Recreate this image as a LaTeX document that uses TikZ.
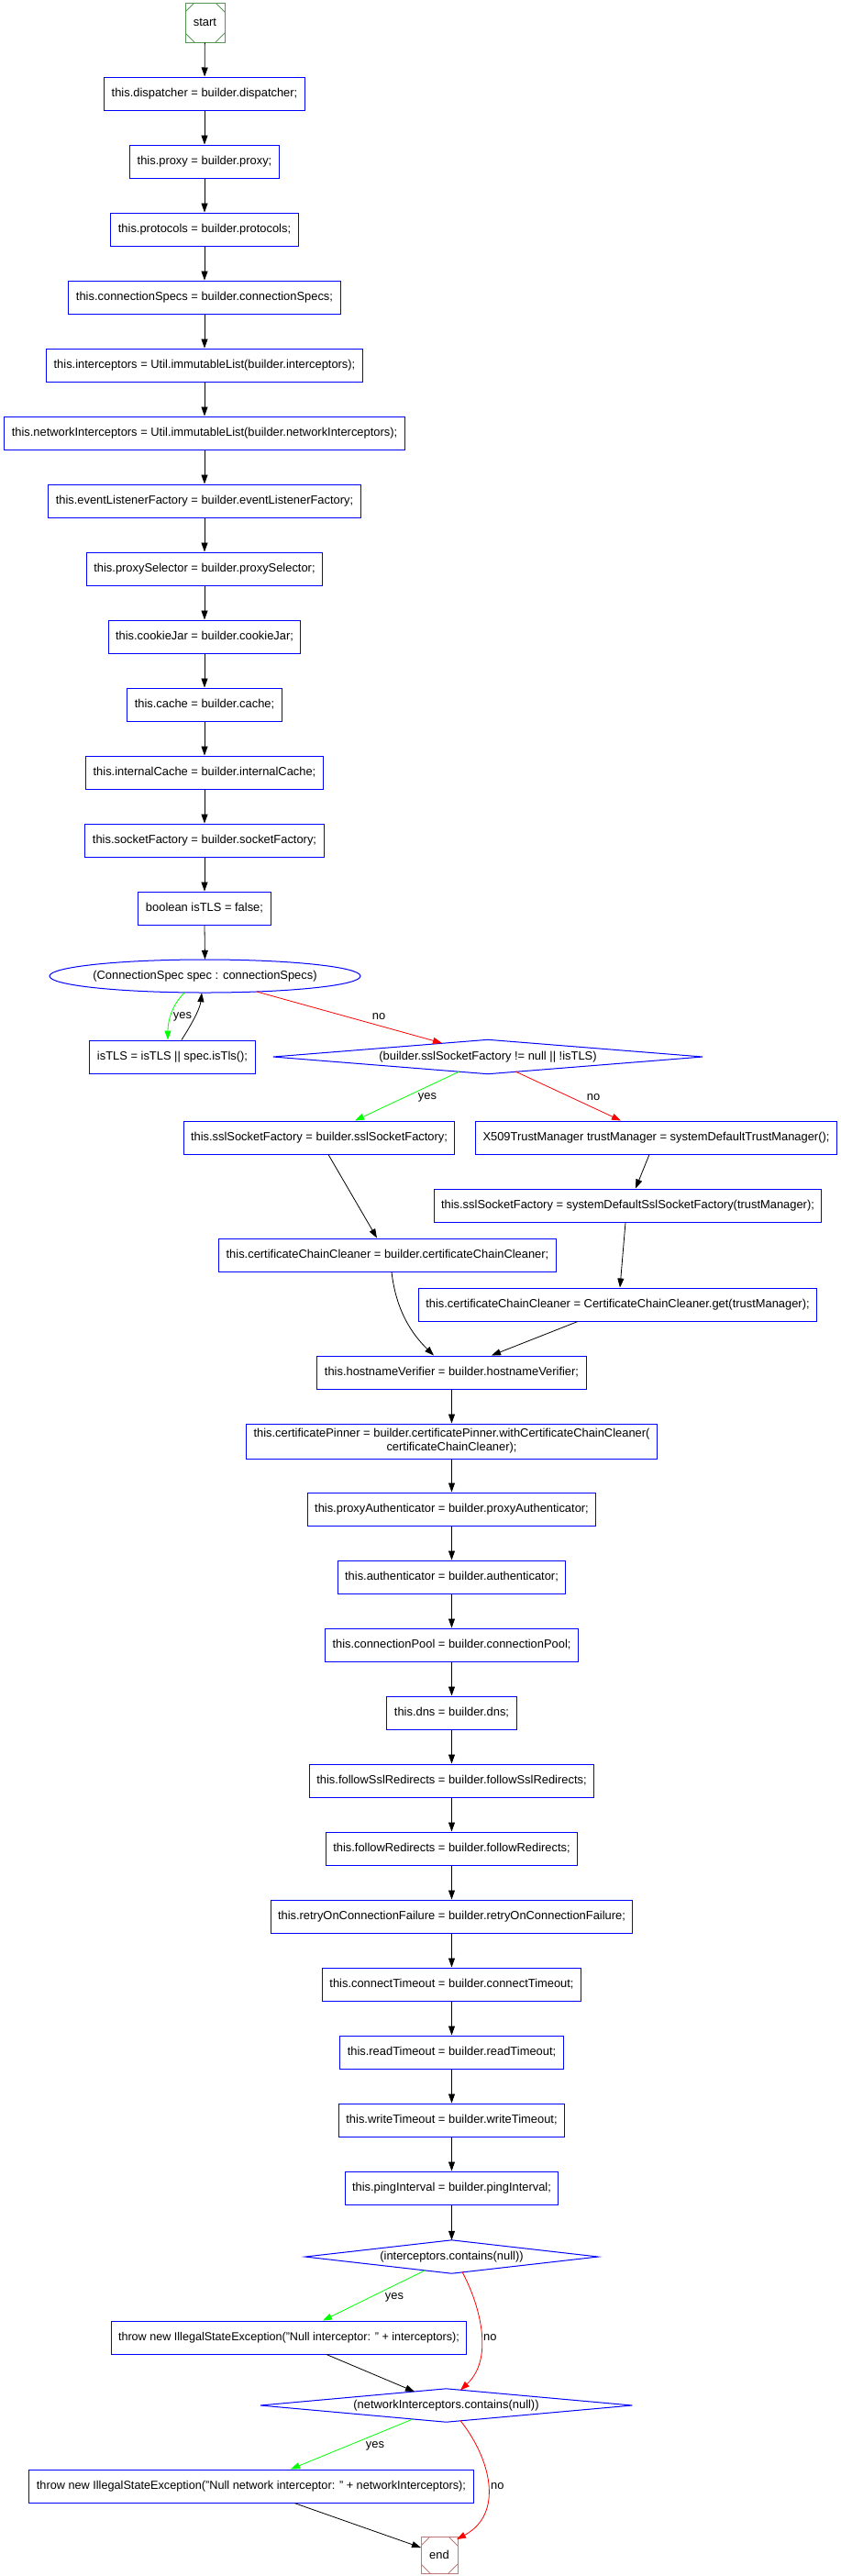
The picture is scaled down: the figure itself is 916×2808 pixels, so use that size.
\documentclass[tikz,border=0pt]{standalone}
\usepackage{fontspec}
\setmainfont{Liberation Sans}
\usetikzlibrary{arrows.meta,calc}
\newcommand\dfont{\fontsize{12.9pt}{15pt}\selectfont}
\definecolor{startgreen}{RGB}{85,150,85}
\definecolor{endred}{RGB}{190,120,120}
\tikzset{
  stm/.style={rectangle, draw=blue, line width=1pt, inner xsep=8pt, inner ysep=0pt,
    minimum height=36pt, font=\dfont, align=center},
  dtxt/.style={rectangle, inner sep=0pt, font=\dfont},
  dshape/.style={draw=blue, line width=1pt},
  lbl/.style={font=\dfont, inner sep=0pt},
  arr/.style={-{Triangle[length=10pt,width=7pt]}, line width=0.8pt},
  yesarr/.style={arr, draw=green},
  noarr/.style={arr, draw=red},
  msq/.style={rectangle, draw=#1, line width=1pt, inner sep=0pt, font=\dfont,
    path picture={
      \draw[#1, line width=1pt]
        ([xshift=10pt]path picture bounding box.north west) -- ([yshift=-10pt]path picture bounding box.north west)
        ([xshift=-10pt]path picture bounding box.north east) -- ([yshift=-10pt]path picture bounding box.north east)
        ([xshift=10pt]path picture bounding box.south west) -- ([yshift=10pt]path picture bounding box.south west)
        ([xshift=-10pt]path picture bounding box.south east) -- ([yshift=10pt]path picture bounding box.south east);
    }}
}
\begin{document}
\begin{tikzpicture}[x=1pt,y=-1pt]
\useasboundingbox (0,0) rectangle (916,2808);
% start
\node[msq=startgreen, minimum width=43pt, minimum height=43pt] (startn) at (223.5,24.5) {start};
% first column
\node[stm] (n1) at (223,102) {this.dispatcher = builder.dispatcher;};
\node[stm] (n2) at (223,176) {this.proxy = builder.proxy;};
\node[stm] (n3) at (223,250) {this.protocols = builder.protocols;};
\node[stm] (n4) at (223,324) {this.connectionSpecs = builder.connectionSpecs;};
\node[stm] (n5) at (223,398) {this.interceptors = Util.immutableList(builder.interceptors);};
\node[stm] (n6) at (223,472) {this.networkInterceptors = Util.immutableList(builder.networkInterceptors);};
\node[stm] (n7) at (223,546) {this.eventListenerFactory = builder.eventListenerFactory;};
\node[stm] (n8) at (223,620) {this.proxySelector = builder.proxySelector;};
\node[stm] (n9) at (223,694) {this.cookieJar = builder.cookieJar;};
\node[stm] (n10) at (223,768) {this.cache = builder.cache;};
\node[stm] (n11) at (223,842) {this.internalCache = builder.internalCache;};
\node[stm] (n12) at (223,916) {this.socketFactory = builder.socketFactory;};
\node[stm] (n13) at (223,990) {boolean isTLS = false;};
% loop
\node[dtxt, minimum width=339pt, minimum height=36pt] (loop) at (223.5,1064) {(ConnectionSpec spec : connectionSpecs)};
\draw[dshape] (loop.center) ellipse [x radius=169.5, y radius=18];
\node[stm] (tls) at (188,1152) {isTLS = isTLS || spec.isTls();};
% decision 1
\node[dtxt, minimum width=468pt, minimum height=37pt] (d1) at (532,1152) {(builder.sslSocketFactory != null || !isTLS)};
\draw[dshape] (d1.west) -- (d1.north) -- (d1.east) -- (d1.south) -- cycle;
\node[stm] (ssl) at (348,1240) {this.sslSocketFactory = builder.sslSocketFactory;};
\node[stm] (x509) at (715.5,1240) {X509TrustManager trustManager = systemDefaultTrustManager();};
\node[stm] (sdsf) at (684.5,1314) {this.sslSocketFactory = systemDefaultSslSocketFactory(trustManager);};
\node[stm] (ccc1) at (422.5,1368) {this.certificateChainCleaner = builder.certificateChainCleaner;};
\node[stm] (ccc2) at (673.5,1422) {this.certificateChainCleaner = CertificateChainCleaner.get(trustManager);};
% second column
\node[stm] (hv) at (492.5,1496) {this.hostnameVerifier = builder.hostnameVerifier;};
\node[stm, minimum height=38pt] (pin) at (492.5,1571) {this.certificatePinner = builder.certificatePinner.withCertificateChainCleaner(\\certificateChainCleaner);};
\node[stm] (pa) at (492.5,1645) {this.proxyAuthenticator = builder.proxyAuthenticator;};
\node[stm] (au) at (492.5,1719) {this.authenticator = builder.authenticator;};
\node[stm] (cp) at (492.5,1793) {this.connectionPool = builder.connectionPool;};
\node[stm] (dns) at (492.5,1867) {this.dns = builder.dns;};
\node[stm] (fsr) at (492.5,1941) {this.followSslRedirects = builder.followSslRedirects;};
\node[stm] (fr) at (492.5,2015) {this.followRedirects = builder.followRedirects;};
\node[stm] (rc) at (492.5,2089) {this.retryOnConnectionFailure = builder.retryOnConnectionFailure;};
\node[stm] (ct) at (492.5,2163) {this.connectTimeout = builder.connectTimeout;};
\node[stm] (rt) at (492.5,2237) {this.readTimeout = builder.readTimeout;};
\node[stm] (wt) at (492.5,2311) {this.writeTimeout = builder.writeTimeout;};
\node[stm] (pi) at (492.5,2385) {this.pingInterval = builder.pingInterval;};
% decisions 2, 3
\node[dtxt, minimum width=319pt, minimum height=36pt] (d2) at (492.5,2460) {(interceptors.contains(null))};
\draw[dshape] (d2.west) -- (d2.north) -- (d2.east) -- (d2.south) -- cycle;
\node[stm, font=\fontsize{12.6pt}{15pt}\selectfont] (th1) at (315,2548) {throw new IllegalStateException("Null interceptor: " + interceptors);};
\node[dtxt, minimum width=405pt, minimum height=36pt] (d3) at (486.5,2622) {(networkInterceptors.contains(null))};
\draw[dshape] (d3.west) -- (d3.north) -- (d3.east) -- (d3.south) -- cycle;
\node[stm, font=\fontsize{12.7pt}{15pt}\selectfont] (th2) at (274,2710) {throw new IllegalStateException("Null network interceptor: " + networkInterceptors);};
\node[msq=endred, minimum width=40pt, minimum height=40pt] (endn) at (479,2785) {end};

% chain arrows
\draw[arr] (startn) -- (n1);
\draw[arr] (n1) -- (n2);
\draw[arr] (n2) -- (n3);
\draw[arr] (n3) -- (n4);
\draw[arr] (n4) -- (n5);
\draw[arr] (n5) -- (n6);
\draw[arr] (n6) -- (n7);
\draw[arr] (n7) -- (n8);
\draw[arr] (n8) -- (n9);
\draw[arr] (n9) -- (n10);
\draw[arr] (n10) -- (n11);
\draw[arr] (n11) -- (n12);
\draw[arr] (n12) -- (n13);
\draw[arr] (n13.south) -- (loop.north);
% loop body
\draw[yesarr] ([xshift=-22.5pt]loop.south) .. controls (188,1095) and (183,1112) .. ([xshift=-5pt]tls.north);
\draw[arr] ([xshift=10pt]tls.north) .. controls (208,1118) and (218,1100) .. ([xshift=-3.5pt]loop.south);
\node[lbl] (lyes0) at (199,1108) {yes};
\draw[noarr] ($(loop.center)+(56.5,17)$) -- ($(d1.center)+(-50,-15)$);
\node[lbl] (lno0) at (413,1108) {no};
% decision 1 branches
\draw[yesarr] ($(d1.center)+(-31,16)$) -- ([xshift=39pt]ssl.north);
\node[lbl] (lyes1) at (466,1196) {yes};
\draw[noarr] ($(d1.center)+(30,16)$) -- ([xshift=-38.5pt]x509.north);
\node[lbl] (lno1) at (647,1196) {no};
\draw[arr] ([xshift=10pt]ssl.south) -- ([xshift=-11.5pt]ccc1.north);
\draw[arr] ([xshift=-7.5pt]x509.south) -- ([xshift=8.5pt]sdsf.north);
\draw[arr] ([xshift=-2.5pt]sdsf.south) -- ([xshift=2.5pt]ccc2.north);
\draw[arr] ([xshift=4.5pt]ccc1.south) .. controls (432,1430) and (450,1455) .. ([xshift=-19.5pt]hv.north);
\draw[arr] ([xshift=-43.5pt]ccc2.south) -- ([xshift=43.5pt]hv.north);
% second chain
\draw[arr] (hv) -- (pin);
\draw[arr] (pin) -- (pa);
\draw[arr] (pa) -- (au);
\draw[arr] (au) -- (cp);
\draw[arr] (cp) -- (dns);
\draw[arr] (dns) -- (fsr);
\draw[arr] (fsr) -- (fr);
\draw[arr] (fr) -- (rc);
\draw[arr] (rc) -- (ct);
\draw[arr] (ct) -- (rt);
\draw[arr] (rt) -- (wt);
\draw[arr] (wt) -- (pi);
\draw[arr] (pi.south) -- (d2.north);
% decision 2
\draw[yesarr] ($(d2.center)+(-29.5,15)$) -- ([xshift=37pt]th1.north);
\node[lbl] (lyes2) at (430,2504) {yes};
\draw[noarr] ($(d2.center)+(11.5,16.5)$) .. controls (522,2510) and (540,2570) .. ($(d3.center)+(15.5,-16.6)$);
\node[lbl, anchor=west] (lno2) at (527,2548) {no};
\draw[arr] ([xshift=41pt]th1.south) -- ($(d3.center)+(-34.5,-15)$);
% decision 3
\draw[yesarr] ($(d3.center)+(-36.5,15)$) -- ([xshift=43pt]th2.north);
\node[lbl] (lyes3) at (409,2666) {yes};
\draw[noarr] ($(d3.center)+(15.5,16.6)$) .. controls (535,2680) and (550,2740) .. ($(endn.center)+(19,-17)$);
\node[lbl, anchor=west] (lno3) at (535,2710) {no};
\draw[arr] ([xshift=47pt]th2.south) -- ($(endn.center)+(-20,-8)$);
\end{tikzpicture}
\end{document}
